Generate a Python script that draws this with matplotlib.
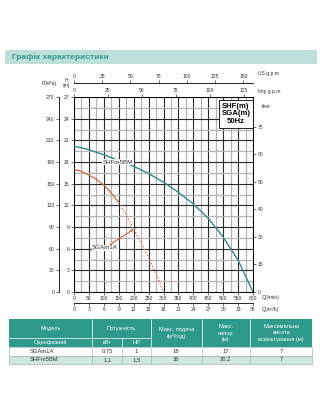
import numpy as np
import matplotlib
matplotlib.use('Agg')
import matplotlib.pyplot as plt
from matplotlib.patches import Rectangle

plt.rcParams['font.family'] = ['Liberation Sans', 'DejaVu Sans']

# pump curves: flow Q (l/min) and head H (m)
shf_q = [0, 50, 100, 150, 200, 250, 300, 350, 400, 450, 500, 550, 600]
shf_h = [20.2, 19.7, 19.0, 18.2, 17.4, 16.4, 15.2, 13.8, 12.2, 10.2, 7.6, 4.4, 0.0]
sga_q_solid = [0, 25, 50, 75, 100, 125, 150]
sga_h_solid = [17.0, 16.7, 16.2, 15.6, 14.8, 13.7, 12.4]
sga_q_dot = [150, 175, 200, 225, 250, 275, 300]
sga_h_dot = [12.4, 10.7, 8.7, 6.8, 4.8, 2.5, 0.0]
sga_mark = (200, 8.7)

# axis ticks
q_ticks = list(range(0, 601, 50))
h_ticks = list(range(0, 28, 3))
kpa_ticks = list(range(0, 271, 30))
m3h_ticks = list(range(0, 37, 3))
us_ticks = list(range(0, 151, 25))
imp_ticks = list(range(0, 126, 25))
feet_pos = [0, 12.5, 25, 37.5, 50, 62.5, 75]
feet_labels = ['0', '15', '30', '40', '50', '60', '75']

# table
tab_models = ['SGAm1A', 'SHFm5BM']
tab_kw = ['0,75', '1,1']
tab_hp = ['1', '1,5']
tab_qmax = ['18', '36']
tab_hmax = ['17', '20.2']
tab_suction = ['7', '7']

TEAL = '#2e9a8c'
SHF_C = '#2f8c8a'
SGA_C = '#c9683f'
TXT = '#333333'

W, H = 320, 420
fig = plt.figure(figsize=(3.2, 4.2), dpi=100)


def rect(x0, y0, x1, y1):
    return [x0 / W, 1 - y1 / H, (x1 - x0) / W, (y1 - y0) / H]


def ftext(x, y, s, **kw):
    kw.setdefault('color', TXT)
    kw.setdefault('fontsize', 3.6)
    kw.setdefault('va', 'center')
    fig.text(x / W, 1 - y / H, s, **kw)


ax = fig.add_axes(rect(74, 97, 253, 292))
ax.set_xlim(0, 600)
ax.set_ylim(0, 27)
ax.set_xticks(q_ticks)
ax.set_xticks(np.arange(0, 601, 25), minor=True)
ax.set_yticks(h_ticks)
ax.set_yticks(np.arange(0, 27.1, 1.5), minor=True)
ax.grid(which='minor', color='#b4b4b4', lw=0.9)
ax.grid(which='major', color='#2a2a2a', lw=0.8)
ax.set_axisbelow(True)
ax.tick_params(which='minor', length=0)
ax.tick_params(labelsize=3.6, length=2, width=0.5, pad=1.2, colors=TXT)
for s in ax.spines.values():
    s.set_linewidth(0.7)

ax.plot(shf_q, shf_h, color=SHF_C, lw=1.0, zorder=3)
ax.plot(sga_q_solid, sga_h_solid, color=SGA_C, lw=0.9, zorder=3)
ax.plot(sga_q_dot, sga_h_dot, color=SGA_C, lw=0.9, ls=(0, (1, 1.5)), zorder=3)

ax.text(148, 18.0, 'SHFm5BM', fontsize=4.5, color=TXT, ha='center', va='center',
        zorder=4, bbox=dict(fc='white', ec='none', pad=0.4))
ax.annotate('SGAm1A', xy=sga_mark, xytext=(104, 6.1), fontsize=4.5, color=TXT,
            ha='center', va='center', zorder=4,
            bbox=dict(fc='white', ec='none', pad=0.4),
            arrowprops=dict(arrowstyle='-|>,head_length=0.25,head_width=0.12',
                            color=SGA_C, lw=0.8, shrinkA=0, shrinkB=0))

ax.text(0.905, 0.913, 'SHF(m)\nSGA(m)\n50Hz', transform=ax.transAxes, fontsize=5.6,
        fontweight='bold', ha='center', va='center', linespacing=1.15, zorder=5,
        bbox=dict(fc='white', ec='black', lw=0.6, boxstyle='square,pad=0.35'))

# secondary scales
kpa = ax.secondary_yaxis(-15 / 179, functions=(lambda m: m * 10, lambda p: p / 10))
kpa.set_yticks(kpa_ticks)
feet = ax.secondary_yaxis('right', functions=(lambda m: m * 3.28084, lambda f: f / 3.28084))
feet.set_yticks(feet_pos, feet_labels)
imp = ax.secondary_xaxis('top', functions=(lambda q: q / 4.54609, lambda g: g * 4.54609))
imp.set_xticks(imp_ticks)
us = ax.secondary_xaxis(1 + 14 / 195, functions=(lambda q: q / 3.78541, lambda g: g * 3.78541))
us.set_xticks(us_ticks)
m3h = ax.secondary_xaxis(-11 / 195, functions=(lambda q: q * 0.06, lambda m: m / 0.06))
m3h.set_xticks(m3h_ticks)
for sec in (kpa, feet, imp, us, m3h):
    sec.tick_params(labelsize=3.6, length=2, width=0.5, pad=1.2, colors=TXT)
    for s in sec.spines.values():
        s.set_linewidth(0.6)

# axis captions
ftext(66, 80, 'H', ha='center')
ftext(66, 86, '(m)', ha='center')
ftext(49, 84, 'P(kPa)', ha='center')
ftext(258, 74, 'US g.p.m', ha='left')
ftext(258, 91, 'Imp g.p.m', ha='left')
ftext(262, 106, 'feet', ha='left')
ftext(262, 297, 'Q(l/min)', ha='left')
ftext(262, 309, 'Q(m³/h)', ha='left')

# overlay for title band and table
ov = fig.add_axes([0, 0, 1, 1])
ov.set_xlim(0, W)
ov.set_ylim(H, 0)
ov.axis('off')
ov.patch.set_alpha(0)

ov.add_patch(Rectangle((5, 50), 312, 14, fc='#bfe0da', ec='none'))
ov.text(12, 57.5, 'Графік характеристики', fontsize=6, fontweight='bold',
        color=TEAL, va='center')

cols = [9, 92.3, 150.7, 201.7, 250, 312.3]
mid = 122.3
y_top, y_sub, y_hdr, y_r1, y_r2 = 319.3, 338.3, 346.7, 355.7, 364
ov.add_patch(Rectangle((cols[0], y_top), cols[-1] - cols[0], y_hdr - y_top, fc=TEAL, ec='none'))
for x in cols[1:-1]:
    ov.plot([x, x], [y_top, y_hdr], color='white', lw=0.5)
ov.plot([cols[0], cols[2]], [y_sub, y_sub], color='white', lw=0.5)
ov.plot([mid, mid], [y_sub, y_hdr], color='white', lw=0.5)

hs = dict(fontsize=4.1, color='white', ha='center', va='center', linespacing=1.3)
ov.text((cols[0] + cols[1]) / 2, 328.5, 'Модель', **hs)
ov.text((cols[0] + cols[1]) / 2, 342.5, 'Однофазний', **hs)
ov.text((cols[1] + cols[2]) / 2, 328.5, 'Потужність', **hs)
ov.text((cols[1] + mid) / 2, 342.5, 'кВт', **hs)
ov.text((mid + cols[2]) / 2, 342.5, 'НР', **hs)
ov.text((cols[2] + cols[3]) / 2, 333, 'Макс. подача\n(м³/год)', **hs)
ov.text((cols[3] + cols[4]) / 2, 333, 'Макс.\nнапор\n(м)', **hs)
ov.text((cols[4] + cols[5]) / 2, 333, 'Максимальна\nвисота\nвсмоктування (м)', **hs)

rows = [(y_hdr, y_r1, 'white'), (y_r1, y_r2, '#cfe7e1')]
for i, (y0, y1, bg) in enumerate(rows):
    ov.add_patch(Rectangle((cols[0], y0), cols[-1] - cols[0], y1 - y0, fc=bg,
                           ec='#9aa9a6', lw=0.4))
    for x in cols[1:-1] + [mid]:
        ov.plot([x, x], [y0, y1], color='#9aa9a6', lw=0.4)
    yc = (y0 + y1) / 2
    ds = dict(fontsize=4.2, color=TXT, va='center')
    ov.text(30, yc, tab_models[i], ha='left', **ds)
    ov.text((cols[1] + mid) / 2, yc, tab_kw[i], ha='center', **ds)
    ov.text((mid + cols[2]) / 2, yc, tab_hp[i], ha='center', **ds)
    ov.text((cols[2] + cols[3]) / 2, yc, tab_qmax[i], ha='center', **ds)
    ov.text((cols[3] + cols[4]) / 2, yc, tab_hmax[i], ha='center', **ds)
    ov.text((cols[4] + cols[5]) / 2, yc, tab_suction[i], ha='center', **ds)

fig.savefig('out.png', dpi=100)
